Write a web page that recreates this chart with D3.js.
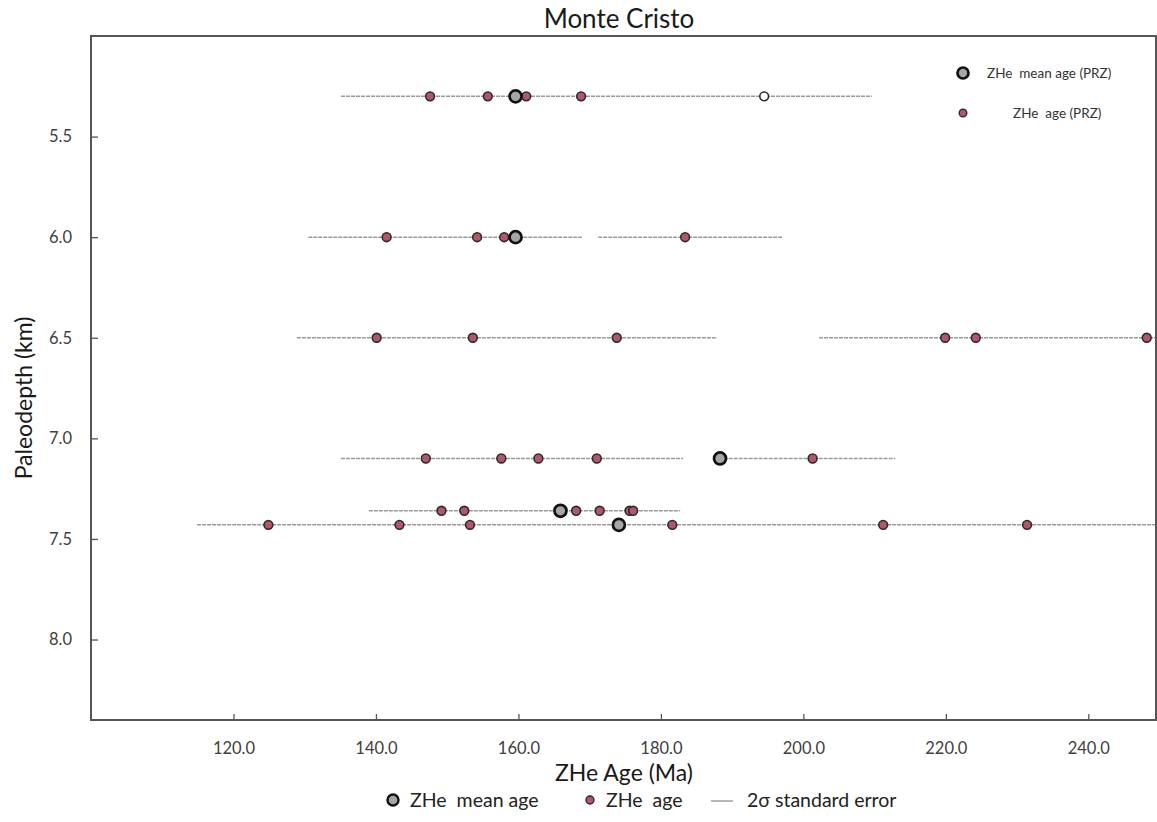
<!DOCTYPE html>
<html>
<head>
<meta charset="utf-8">
<script src="https://cdn.jsdelivr.net/npm/d3@7"></script>
<style>
  html, body { margin: 0; padding: 0; background: #fff; }
  svg { display: block; font-family: Lato, "Open Sans", sans-serif; }
  text { white-space: pre; }
</style>
</head>
<body>
<svg id="chart" width="1157" height="822"></svg>
<script>
// ---- data ----
const depths = [5.3, 6.0, 6.5, 7.1, 7.36, 7.43];
const singleAges = [
  [147.6, 155.7, 161.1, 168.8],
  [141.5, 154.2, 158.0, 183.4],
  [140.1, 153.6, 173.8, 219.9, 224.2, 248.2],
  [147.0, 157.6, 162.8, 171.0, 201.3],
  [149.2, 152.4, 168.1, 171.4, 175.6, 176.1],
  [124.9, 143.3, 153.2, 181.6, 211.2, 231.4]
];
const meanAges = [159.6, 159.6, null, 188.3, 165.9, 174.1];
const excludedDepths = [5.3];
const excludedAges = [194.5];
// 2-sigma standard error segments
const errDepths = [5.3, 6.0, 6.0, 6.5, 6.5, 7.1, 7.1, 7.36, 7.43];
const errLo =     [135.1, 130.5, 171.2, 128.9, 202.2, 135.1, 187.4, 139.0, 114.9];
const errHi =     [209.6, 168.9, 197.0, 187.9, 251.0, 183.1, 212.9, 182.7, 251.0];
const xTicks = [120, 140, 160, 180, 200, 220, 240];
const yTicks = [5.5, 6.0, 6.5, 7.0, 7.5, 8.0];

// ---- layout ----
const L = 91, R = 1156, T = 36, B = 720;
const svg = d3.select("#chart");
const x = d3.scaleLinear().domain([100, 249.5]).range([L, R]);
const y = d3.scaleLinear().domain([5.0, 8.4]).range([T, B]);

const ageFill = "#b4566b", mark = "#2b2b2b", meanFill = "#a6a6a6";

svg.append("defs").append("clipPath").attr("id", "clip")
  .append("rect").attr("x", L).attr("y", T).attr("width", R - L).attr("height", B - T);

const plot = svg.append("g").attr("clip-path", "url(#clip)");

// error bars
const errData = errDepths.map((d, i) => ({ d, lo: errLo[i], hi: errHi[i] }));
plot.selectAll("line.err").data(errData).join("line")
  .attr("class", "err")
  .attr("x1", e => x(e.lo)).attr("x2", e => x(e.hi))
  .attr("y1", e => y(e.d)).attr("y2", e => y(e.d))
  .attr("stroke", "#9a9a9a").attr("stroke-width", 1.5)
  .attr("stroke-dasharray", "4,1");

// individual ages
const pts = [];
singleAges.forEach((arr, i) => arr.forEach(a => pts.push({ d: depths[i], a })));
plot.selectAll("circle.age").data(pts).join("circle")
  .attr("class", "age")
  .attr("cx", p => x(p.a)).attr("cy", p => y(p.d)).attr("r", 4.4)
  .attr("fill", ageFill).attr("stroke", mark).attr("stroke-width", 1.6);

// excluded (open) age
plot.selectAll("circle.excl").data(excludedAges.map((a, i) => ({ a, d: excludedDepths[i] }))).join("circle")
  .attr("class", "excl")
  .attr("cx", p => x(p.a)).attr("cy", p => y(p.d)).attr("r", 4.4)
  .attr("fill", "#fff").attr("stroke", mark).attr("stroke-width", 1.6);

// means
const means = meanAges.map((a, i) => ({ a, d: depths[i] })).filter(m => m.a != null);
plot.selectAll("circle.mean").data(means).join("circle")
  .attr("class", "mean")
  .attr("cx", m => x(m.a)).attr("cy", m => y(m.d)).attr("r", 6)
  .attr("fill", meanFill).attr("stroke", "#111").attr("stroke-width", 2.7);

// frame
svg.append("rect").attr("x", L).attr("y", T).attr("width", R - L).attr("height", B - T)
  .attr("fill", "none").attr("stroke", "#555").attr("stroke-width", 2);

// axes
const xAxis = d3.axisBottom(x).tickValues(xTicks).tickFormat(d3.format(".1f"))
  .tickSizeInner(-6).tickSizeOuter(0).tickPadding(22);
const gx = svg.append("g").attr("transform", `translate(0,${B})`).call(xAxis);
gx.select(".domain").remove();
gx.selectAll(".tick line").attr("stroke", "#555").attr("stroke-width", 1.3);
gx.selectAll(".tick text").attr("fill", "#404040").style("font-size", "16.5px")
  .style("font-family", "Lato, sans-serif");

const yAxis = d3.axisLeft(y).tickValues(yTicks).tickFormat(d3.format(".1f"))
  .tickSizeInner(-7).tickSizeOuter(0).tickPadding(19);
const gy = svg.append("g").attr("transform", `translate(${L},0)`).call(yAxis);
gy.select(".domain").remove();
gy.selectAll(".tick line").attr("stroke", "#555").attr("stroke-width", 1.3);
gy.selectAll(".tick text").attr("fill", "#404040").style("font-size", "16.5px")
  .style("font-family", "Lato, sans-serif");

// titles
svg.append("text").attr("x", 619).attr("y", 28).attr("text-anchor", "middle")
  .style("font-size", "26px").attr("fill", "#1a1a1a").text("Monte Cristo");
svg.append("text").attr("x", 624).attr("y", 781).attr("text-anchor", "middle")
  .style("font-size", "23px").attr("fill", "#1a1a1a").text("ZHe Age (Ma)");
svg.append("text").attr("transform", "translate(32,398) rotate(-90)").attr("text-anchor", "middle")
  .style("font-size", "23px").attr("fill", "#1a1a1a").text("Paleodepth (km)");

// top-right legend
const tl = svg.append("g");
tl.append("circle").attr("cx", 963).attr("cy", 73).attr("r", 5.5)
  .attr("fill", meanFill).attr("stroke", "#111").attr("stroke-width", 2.7);
tl.append("text").attr("x", 987).attr("y", 78).style("font-size", "13.5px").attr("fill", "#333")
  .text("ZHe  mean age (PRZ)");
tl.append("circle").attr("cx", 963).attr("cy", 113).attr("r", 3.8)
  .attr("fill", ageFill).attr("stroke", mark).attr("stroke-width", 1.4);
tl.append("text").attr("x", 1013).attr("y", 118).style("font-size", "13.5px").attr("fill", "#333")
  .text("ZHe  age (PRZ)");

// bottom legend
const bl = svg.append("g");
bl.append("circle").attr("cx", 393).attr("cy", 800).attr("r", 5.5)
  .attr("fill", meanFill).attr("stroke", "#111").attr("stroke-width", 2.4);
bl.append("text").attr("x", 410).attr("y", 807).style("font-size", "19.5px").attr("fill", "#222")
  .text("ZHe  mean age");
bl.append("circle").attr("cx", 590).attr("cy", 800).attr("r", 4)
  .attr("fill", ageFill).attr("stroke", mark).attr("stroke-width", 1.4);
bl.append("text").attr("x", 606).attr("y", 807).style("font-size", "19.5px").attr("fill", "#222")
  .text("ZHe  age");
bl.append("line").attr("x1", 711).attr("x2", 733).attr("y1", 801).attr("y2", 801)
  .attr("stroke", "#9a9a9a").attr("stroke-width", 1.4);
bl.append("text").attr("x", 747).attr("y", 807).style("font-size", "19.5px").attr("fill", "#222")
  .text("2σ standard error");
</script>
</body>
</html>
